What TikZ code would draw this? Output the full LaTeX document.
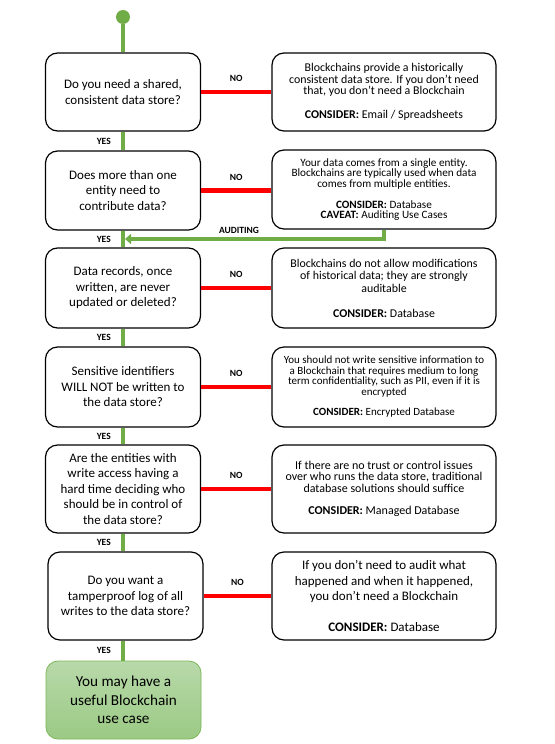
\documentclass[tikz,border=0pt]{standalone}
\usepackage{fontspec}
\setmainfont{Carlito}
\usetikzlibrary{arrows.meta}
\definecolor{lgreen}{HTML}{70AD47}
\definecolor{lred}{HTML}{FF0000}
\definecolor{ftop}{HTML}{B8D9AA}
\definecolor{fbot}{HTML}{9BCA84}
\definecolor{fborder}{HTML}{7CB75A}
\begin{document}
\begin{tikzpicture}[x=1pt,y=-1pt,
  qbox/.style={draw=black, line width=1.2pt, rounded corners=12pt, fill=white,
    minimum width=155pt, inner sep=0pt, align=center,
    font=\fontsize{13}{15.5}\selectfont},
  abox/.style={draw=black, line width=1.2pt, rounded corners=12pt, fill=white,
    minimum width=224pt, inner sep=0pt, align=center},
  finbox/.style={draw=fborder, line width=0.8pt, rounded corners=12pt,
    top color=ftop, bottom color=fbot, minimum width=155pt, minimum height=78pt,
    inner sep=0pt, align=center, font=\fontsize{15.2}{18.3}\selectfont},
  yesline/.style={draw=lgreen, line width=4.5pt},
  noline/.style={draw=lred, line width=4.5pt},
  lbl/.style={font=\fontsize{9.5}{11}\selectfont\bfseries, inner sep=0pt},
]
\useasboundingbox[fill=white] (0,0) rectangle (554,744);

\node[circle, fill=lgreen, minimum size=14pt, inner sep=0pt] (dot) at (123,17) {};

\node[qbox, minimum height=78pt] (q1) at (123,92) {Do you need a shared,\\consistent data store?};
\node[qbox, minimum height=79pt] (q2) at (123,190.5) {Does more than one\\entity need to\\contribute data?};
\node[qbox, minimum height=80pt] (q3) at (123,288) {Data records, once\\written, are never\\updated or deleted?};
\node[qbox, minimum height=80pt] (q4) at (123,387) {Sensitive identifiers\\WILL NOT be written to\\the data store?};
\node[qbox, minimum height=88pt] (q5) at (123,489) {Are the entities with\\write access having a\\hard time deciding who\\should be in control of\\the data store?};
\node[qbox, minimum height=88pt] (q6) at (125.5,596) {Do you want a\\tamperproof log of all\\writes to the data store?};
\node[finbox] (fin) at (123.5,700) {You may have a\\useful Blockchain\\use case};

\node[abox, minimum height=78pt, font=\fontsize{11.9}{11.6}\selectfont] (a1) at (384,92)
  {Blockchains provide a historically\\consistent data store. If you don’t need\\that, you don’t need a Blockchain\\[12.5pt]\textbf{CONSIDER:} Email / Spreadsheets};
\node[abox, minimum height=79pt, font=\fontsize{11.2}{10.4}\selectfont] (a2) at (384,189.5)
  {Your data comes from a single entity.\\Blockchains are typically used when data\\comes from multiple entities.\\[10.4pt]\textbf{CONSIDER:} Database\\\textbf{CAVEAT:} Auditing Use Cases};
\node[abox, minimum height=80pt, font=\fontsize{11.9}{12.5}\selectfont] (a3) at (384,288)
  {Blockchains do not allow modifications\\of historical data; they are strongly\\auditable\\[12.5pt]\textbf{CONSIDER:} Database};
\node[abox, minimum height=80pt, font=\fontsize{11}{10.4}\selectfont] (a4) at (384,387)
  {You should not write sensitive information to\\a Blockchain that requires medium to long\\term confidentiality, such as PII, even if it is\\encrypted\\[10.4pt]\textbf{CONSIDER:} Encrypted Database};
\node[abox, minimum height=88pt, font=\fontsize{12}{11.4}\selectfont] (a5) at (384,489)
  {If there are no trust or control issues\\over who runs the data store, traditional\\database solutions should suffice\\[11.4pt]\textbf{CONSIDER:} Managed Database};
\node[abox, minimum height=88pt, font=\fontsize{13}{15.5}\selectfont] (a6) at (384,596)
  {If you don’t need to audit what\\happened and when it happened,\\you don’t need a Blockchain\\[15.5pt]\textbf{CONSIDER:} Database};

% main YES path
\draw[yesline] (dot) -- (q1.north);
\draw[yesline] (q1.south) -- (q2.north) node[lbl, midway, left=10pt] {YES};
\draw[yesline] (q2.south) -- (q3.north) node[lbl, midway, left=10pt] {YES};
\draw[yesline] (q3.south) -- (q4.north) node[lbl, midway, left=10pt] {YES};
\draw[yesline] (q4.south) -- (q5.north) node[lbl, midway, left=10pt] {YES};
\draw[yesline] (q5.south) -- (q5.south |- q6.north) node[lbl, midway, left=10pt] {YES};
\draw[yesline] (q5.south |- q6.south) -- (q5.south |- fin.north) node[lbl, midway, left=10pt] {YES};

% NO paths
\draw[noline] (q1.east) -- (q1.east -| a1.west) node[lbl, midway, above=8pt] {NO};
\draw[noline] (q2.east) -- (q2.east -| a2.west) node[lbl, midway, above=8pt] {NO};
\draw[noline] (q3.east) -- (q3.east -| a3.west) node[lbl, midway, above=8pt] {NO};
\draw[noline] (q4.east) -- (q4.east -| a4.west) node[lbl, midway, above=8pt] {NO};
\draw[noline] (q5.east) -- (q5.east -| a5.west) node[lbl, midway, above=8pt] {NO};
\draw[noline] (q6.east) -- (q6.east -| a6.west) node[lbl, midway, above=8pt] {NO};

% auditing path
\coordinate (audend) at (125,239);
\draw[draw=lgreen, line width=4pt, -{Triangle[length=6pt,width=10pt]}]
  (a2.south) |- (audend) node[lbl, pos=0.78, above=3.5pt] {AUDITING};
\end{tikzpicture}
\end{document}
